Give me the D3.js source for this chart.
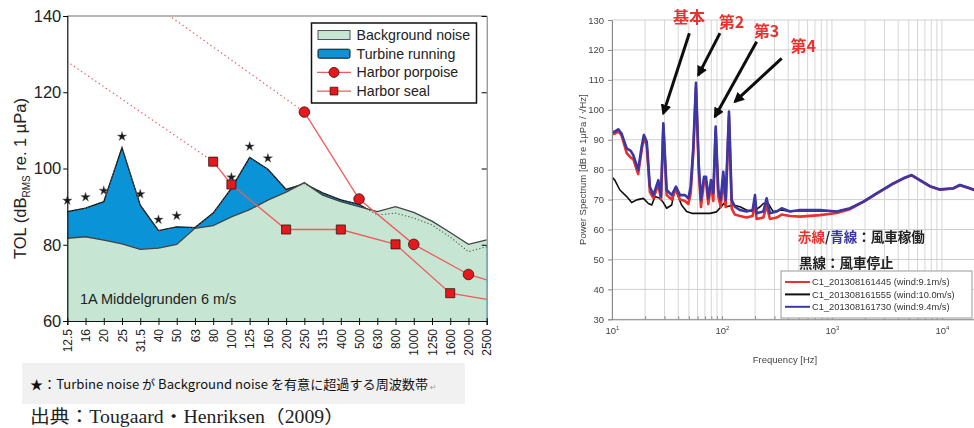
<!DOCTYPE html>
<html>
<head>
<meta charset="utf-8">
<script src="https://cdn.jsdelivr.net/npm/d3@7"></script>
<style>
  body { margin: 0; background: #fff; }
  svg { display: block; }
</style>
</head>
<body>
<svg id="fig" width="974" height="428"></svg>
<script>
// ---------- Left panel: third-octave levels, Middelgrunden ----------
const bands = ["12.5","16","20","25","31.5","40","50","63","80","100","125","160","200","250","315","400","500","630","800","1000","1250","1600","2000","2500"];
const backgroundNoise = [81.7,82.1,81.2,80.2,78.8,79.1,80.1,84.3,85.0,87.3,89.2,91.7,93.8,96.3,93.0,91.3,90.0,88.7,90.0,88.5,86.2,83.2,80.1,81.3];
const turbineRunning  = [88.7,89.6,91.3,105.5,90.4,83.7,84.7,84.5,88.3,94.8,102.9,99.8,94.5,96.0,93.6,91.8,90.6,87.8,88.3,87.0,85.2,82.0,78.2,79.5];
const significantBands = ["12.5","16","20","25","31.5","40","50","100","125","160"];

const porpoiseBands  = ["250","500","1000","2000","2500"];
const porpoiseLevels = [114.8,92.0,80.1,72.2,70.8];
const porpoiseMarked = [true,true,true,true,false];
const porpoiseExtBands  = ["40","250"];
const porpoiseExtLevels = [142.1,114.8];

const sealBands  = ["80","100","200","400","800","1600","2500"];
const sealLevels = [101.8,95.8,84.0,84.0,80.1,67.3,65.7];
const sealMarked = [true,true,true,true,true,true,false];
const sealExtBands  = ["12.5","80"];
const sealExtLevels = [128.0,101.8];

const yTicksLeft = [60,80,100,120,140];

// ---------- Right panel: power spectra ----------
const spectrumRed = [[10.0,91.8],[10.6,92.0],[11.4,92.8],[12.2,91.5],[13.6,85.5],[14.8,84.0],[15.6,83.5],[17.3,78.5],[18.6,86.5],[19.5,90.8],[20.7,88.0],[22.1,72.5],[23.8,70.5],[26.4,75.0],[27.9,70.0],[29.3,94.5],[31.4,71.5],[34.9,70.0],[38.2,73.5],[41.5,70.0],[46.1,69.5],[49.4,68.5],[51.9,72.0],[54.9,86.0],[58.0,107.5],[61.4,80.0],[64.4,67.5],[68.6,76.0],[71.6,76.0],[75.1,68.5],[79.4,75.0],[83.4,69.5],[87.6,93.0],[92.6,71.0],[97.3,67.5],[102.8,77.5],[108,67.5],[115.8,97.8],[122.5,67.0],[131,65.0],[146,64.5],[167,64.0],[190,64.5],[199.5,69.5],[206.5,63.5],[237.7,64.0],[254.6,68.0],[273,63.5],[314,64.0],[349,65.0],[415,64.5],[512,64.3],[778,64.8],[1104,65.5],[1459,66.8],[1929,69.2],[2548,72.0],[3609,75.3],[4447,77.0],[5305,78.1],[6310,76.4],[7780,74.4],[9590,73.3],[12680,73.7],[14580,74.8],[17990,73.7],[20370,72.9]];
const spectrumBlack = [[10.0,77.5],[10.6,76.5],[11.8,73.2],[13.6,71.0],[15.1,69.0],[16.8,69.9],[19.3,70.4],[21.4,68.7],[23.0,68.2],[24.6,71.0],[26.9,70.5],[29.3,69.0],[31.4,67.1],[34.9,68.2],[37.4,73.8],[40.0,71.0],[42.9,68.2],[47.7,66.0],[53.1,65.4],[63.0,65.4],[77.7,65.4],[89.4,65.9],[99.6,67.9],[104.5,68.8],[110.6,67.6],[126.5,68.2],[146,67.6],[167,66.5],[192,66.0],[222,67.6],[237.7,68.7],[263,68.7],[292,66.0],[349,66.5],[415,66.0],[512,66.3],[778,66.2],[1104,66.0],[1459,67.0],[1929,69.2],[2548,72.0],[3609,75.3],[4447,77.0],[5305,78.1],[6310,76.4],[7780,74.4],[9590,73.3],[12680,73.7],[14580,74.8],[17990,73.7],[20370,72.9]];
const spectrumBlue = [[10.0,92.5],[10.6,92.7],[11.4,93.5],[12.2,92.1],[13.6,87.1],[14.8,86.3],[15.6,84.9],[17.3,79.9],[18.6,87.7],[19.5,91.6],[20.7,89.3],[22.1,74.3],[23.8,71.5],[26.4,76.5],[27.9,71.0],[29.3,95.5],[31.4,73.2],[34.9,71.5],[38.2,74.3],[41.5,71.5],[46.1,71.5],[49.4,70.4],[51.9,74.3],[54.9,87.7],[58.0,109.0],[61.4,82.1],[64.4,69.9],[68.6,77.6],[71.6,77.6],[75.1,70.4],[79.4,76.5],[83.4,72.1],[87.6,94.4],[92.6,73.2],[97.3,69.9],[102.8,79.3],[108,69.9],[115.8,99.4],[122.5,69.9],[131,67.6],[146,66.5],[167,66.0],[190,66.5],[199.5,71.5],[206.5,65.4],[237.7,66.0],[254.6,70.4],[273,65.4],[314,66.0],[349,67.1],[415,66.0],[512,66.5],[778,66.5],[1104,66.0],[1459,67.1],[1929,69.3],[2548,72.1],[3609,75.4],[4447,77.1],[5305,78.2],[6310,76.5],[7780,74.5],[9590,73.4],[12680,73.8],[14580,74.9],[17990,73.8],[20370,73.0]];

const seriesNames  = ["C1_201308161445 (wind:9.1m/s)","C1_201308161555 (wind:10.0m/s)","C1_201308161730 (wind:9.4m/s)"];
const seriesColors = ["#e8302c","#111111","#3b37a6"];
const yTicksRight = [30,40,50,60,70,80,90,100,110,120,130];
const decadeTicks = [10,100,1000,10000];

// harmonic callouts: label, label anchor, arrow tail, arrow head (Hz, dB)
const harmonicLabels = ["基本","第2","第3","第4"];
const labelPos  = [[50.1,131.0],[122,129.3],[254,126.2],[548,121.1]];
const arrowTail = [[50.5,125.6],[95.9,125.6],[206.5,122.7],[349,117.2]];
const arrowHead = [[29.3,98.8],[60.9,111.6],[86.3,97.7],[131,102.7]];

const svg = d3.select("#fig");
const defs = svg.append("defs");

// ===================== Left panel =====================
const L = { left: 67.3, right: 486.7, top: 16, bottom: 321 };
const xL = d3.scalePoint().domain(bands).range([L.left, L.right]);
const yL = d3.scaleLinear().domain([60, 140]).range([L.bottom, L.top]);

defs.append("clipPath").attr("id", "clipL")
  .append("rect").attr("x", L.left).attr("y", L.top)
  .attr("width", L.right - L.left).attr("height", L.bottom - L.top);

const gL = svg.append("g");
const plotL = gL.append("g").attr("clip-path", "url(#clipL)");

const idx = bands.map((b, i) => i);
const areaTurb = d3.area().x(i => xL(bands[i])).y0(yL(60)).y1(i => yL(turbineRunning[i]));
const areaBg   = d3.area().x(i => xL(bands[i])).y0(yL(60)).y1(i => yL(backgroundNoise[i]));
const lineTurb = d3.line().x(i => xL(bands[i])).y(i => yL(turbineRunning[i]));
const lineBg   = d3.line().x(i => xL(bands[i])).y(i => yL(backgroundNoise[i]));

plotL.append("path").attr("d", areaTurb(idx)).attr("fill", "#0a93d6");
plotL.append("path").attr("d", lineTurb(idx)).attr("fill", "none").attr("stroke", "#111").attr("stroke-width", 1.3);
plotL.append("path").attr("d", areaBg(idx)).attr("fill", "#c6e6d3");
plotL.append("path").attr("d", lineTurb(idx)).attr("fill", "none").attr("stroke", "#555")
  .attr("stroke-width", 1.1).attr("stroke-dasharray", "1.2,2.2");
plotL.append("path").attr("d", lineBg(idx)).attr("fill", "none").attr("stroke", "#444").attr("stroke-width", 1.3);

// threshold curves
const pink = "#ef5b5b";
const lineCat = d3.line().x(d => xL(d[0])).y(d => yL(d[1]));
const dotted = (bs, vs) => plotL.append("path").attr("d", lineCat(bs.map((b, i) => [b, vs[i]])))
  .attr("fill", "none").attr("stroke", pink).attr("stroke-width", 1.4)
  .attr("stroke-dasharray", "0.1,4.2").attr("stroke-linecap", "round");
dotted(porpoiseExtBands, porpoiseExtLevels);
dotted(sealExtBands, sealExtLevels);

plotL.append("path").attr("d", lineCat(porpoiseBands.map((b, i) => [b, porpoiseLevels[i]])))
  .attr("fill", "none").attr("stroke", pink).attr("stroke-width", 1.3);
plotL.append("path").attr("d", lineCat(sealBands.map((b, i) => [b, sealLevels[i]])))
  .attr("fill", "none").attr("stroke", pink).attr("stroke-width", 1.3);

plotL.selectAll("circle.porp").data(porpoiseBands.filter((b, i) => porpoiseMarked[i]))
  .join("circle").attr("class", "porp")
  .attr("cx", b => xL(b)).attr("cy", b => yL(porpoiseLevels[porpoiseBands.indexOf(b)]))
  .attr("r", 5.3).attr("fill", "#e3191c").attr("stroke", "#3a1010").attr("stroke-width", 0.8);

const sq = d3.symbol(d3.symbolSquare).size(82);
plotL.selectAll("path.seal").data(sealBands.filter((b, i) => sealMarked[i]))
  .join("path").attr("class", "seal").attr("d", sq)
  .attr("transform", b => `translate(${xL(b)},${yL(sealLevels[sealBands.indexOf(b)])})`)
  .attr("fill", "#e3191c").attr("stroke", "#3a1010").attr("stroke-width", 0.8);

// stars above bands where turbine noise clearly exceeds background
const star = d3.symbol(d3.symbolStar).size(28);
gL.selectAll("path.star").data(significantBands).join("path").attr("class", "star")
  .attr("d", star)
  .attr("transform", b => `translate(${xL(b)},${yL(turbineRunning[bands.indexOf(b)]) - 11})`)
  .attr("fill", "#1a1a1a").attr("stroke", "#777").attr("stroke-width", 0.4);

// axes
const axL = gL.append("g").attr("transform", `translate(${L.left},0)`)
  .call(d3.axisLeft(yL).tickValues(yTicksLeft).tickSize(4).tickPadding(2));
axL.select(".domain").attr("stroke", "#111").attr("stroke-width", 1.2);
axL.selectAll("text").attr("font-family", "Liberation Sans, Arial, sans-serif")
  .attr("font-size", 16.5).attr("fill", "#222");

const axR = gL.append("g").attr("transform", `translate(${L.right},0)`)
  .call(d3.axisLeft(yL).tickValues(yTicksLeft).tickSize(5).tickFormat(""));
axR.select(".domain").attr("stroke", "#111").attr("stroke-width", 0.6);

const axB = gL.append("g").attr("transform", `translate(0,${L.bottom})`)
  .call(d3.axisBottom(xL).tickSize(4).tickPadding(3));
axB.select(".domain").attr("stroke", "#111").attr("stroke-width", 1.2);
axB.selectAll(".tick line").attr("y1", -3).attr("stroke", "#111");
axB.selectAll("text")
  .attr("transform", "rotate(-90)").attr("x", -8).attr("y", 0).attr("dy", "0.35em")
  .style("text-anchor", "end")
  .attr("font-family", "Liberation Sans, Arial, sans-serif").attr("font-size", 12).attr("fill", "#222");

gL.append("line").attr("x1", L.left).attr("x2", L.right).attr("y1", L.top).attr("y2", L.top)
  .attr("stroke", "#111").attr("stroke-width", 0.6);

// y title
const yt = gL.append("text").attr("transform", `translate(26,${(L.top + L.bottom) / 2 + 10}) rotate(-90)`)
  .attr("text-anchor", "middle").attr("font-family", "Liberation Sans, Arial, sans-serif")
  .attr("font-size", 16.5).attr("fill", "#222");
yt.append("tspan").text("TOL (dB");
yt.append("tspan").text("RMS").attr("font-size", 10).attr("dy", 4);
yt.append("tspan").text(" re. 1 µPa)").attr("dy", -4);

gL.append("text").attr("x", 80).attr("y", 304).text("1A Middelgrunden 6 m/s")
  .attr("font-family", "Liberation Sans, Arial, sans-serif").attr("font-size", 14.5).attr("fill", "#222");

// legend
const lg = gL.append("g");
lg.append("rect").attr("x", 311.5).attr("y", 23).attr("width", 165).attr("height", 80)
  .attr("fill", "#fff").attr("stroke", "#111").attr("stroke-width", 1.5);
const legendRows = ["Background noise","Turbine running","Harbor porpoise","Harbor seal"];
legendRows.forEach((name, i) => {
  const cy = 35 + i * 18.7;
  if (i === 0) lg.append("rect").attr("x", 318).attr("y", cy - 4.5).attr("width", 32).attr("height", 9)
    .attr("fill", "#c6e6d3").attr("stroke", "#555").attr("stroke-width", 1);
  if (i === 1) lg.append("rect").attr("x", 318).attr("y", cy - 4.5).attr("width", 32).attr("height", 9)
    .attr("rx", 1.5).attr("fill", "#0a93d6").attr("stroke", "#111").attr("stroke-width", 1);
  if (i >= 2) {
    lg.append("line").attr("x1", 317).attr("x2", 351).attr("y1", cy).attr("y2", cy)
      .attr("stroke", pink).attr("stroke-width", 1.3);
    if (i === 2) lg.append("circle").attr("cx", 334).attr("cy", cy).attr("r", 5)
      .attr("fill", "#e3191c").attr("stroke", "#3a1010").attr("stroke-width", 0.8);
    else lg.append("path").attr("d", d3.symbol(d3.symbolSquare).size(60))
      .attr("transform", `translate(334,${cy})`)
      .attr("fill", "#e3191c").attr("stroke", "#3a1010").attr("stroke-width", 0.8);
  }
  lg.append("text").attr("x", 356.5).attr("y", cy + 5).text(name)
    .attr("font-family", "Liberation Sans, Arial, sans-serif").attr("font-size", 14.2).attr("fill", "#222");
});

// note strip and source
svg.append("rect").attr("x", 22).attr("y", 363).attr("width", 443).attr("height", 41).attr("fill", "#f1f1f1");
svg.append("text").attr("x", 30).attr("y", 389)
  .text("★：Turbine noise が Background noise を有意に超過する周波数帯")
  .attr("font-family", "Noto Sans CJK JP, sans-serif").attr("font-size", 13).attr("fill", "#111")
  .attr("textLength", 398).attr("lengthAdjust", "spacingAndGlyphs");
svg.append("text").attr("x", 430).attr("y", 390).text("↵")
  .attr("font-family", "DejaVu Sans, sans-serif").attr("font-size", 8).attr("fill", "#999");
svg.append("text").attr("x", 30).attr("y", 423)
  .text("出典：Tougaard・Henriksen（2009）")
  .attr("font-family", "Liberation Serif, Noto Sans CJK JP, serif").attr("font-size", 18).attr("fill", "#222")
  .attr("textLength", 314).attr("lengthAdjust", "spacingAndGlyphs");

// ===================== Right panel =====================
defs.append("filter").attr("id", "soft").append("feGaussianBlur").attr("stdDeviation", 0.55);
const R = { left: 612, right: 976, top: 20, bottom: 319.3 };
const xR = d3.scaleLog().domain([10, 20400]).range([R.left, R.right]);
const yR = d3.scaleLinear().domain([30, 130]).range([R.bottom, R.top]);

defs.append("clipPath").attr("id", "clipR")
  .append("rect").attr("x", R.left).attr("y", R.top - 2)
  .attr("width", R.right - R.left).attr("height", R.bottom - R.top + 2);

const gR = svg.append("g").attr("filter", "url(#soft)");

// grid
const minorTicks = xR.ticks();
gR.append("g").selectAll("line").data(minorTicks).join("line")
  .attr("x1", d => xR(d)).attr("x2", d => xR(d)).attr("y1", R.top).attr("y2", R.bottom)
  .attr("stroke", "#d6d6d6").attr("stroke-width", 1);
gR.append("g").selectAll("line").data(yTicksRight).join("line")
  .attr("x1", R.left).attr("x2", R.right).attr("y1", d => yR(d)).attr("y2", d => yR(d))
  .attr("stroke", "#cfcfcf").attr("stroke-width", 1);

// spectra
const plotR = gR.append("g").attr("clip-path", "url(#clipR)");
const lineR = d3.line().x(d => xR(d[0])).y(d => yR(d[1]));
plotR.append("path").attr("d", lineR(spectrumBlack)).attr("fill", "none")
  .attr("stroke", seriesColors[1]).attr("stroke-width", 1.6).attr("stroke-linejoin", "round");
plotR.append("path").attr("d", lineR(spectrumRed)).attr("fill", "none")
  .attr("stroke", seriesColors[0]).attr("stroke-width", 2.6).attr("stroke-linejoin", "round");
plotR.append("path").attr("d", lineR(spectrumBlue)).attr("fill", "none")
  .attr("stroke", seriesColors[2]).attr("stroke-width", 2.6).attr("stroke-linejoin", "round");

// axes
const fontR = "Liberation Sans, Arial, sans-serif";
const ayR = gR.append("g").attr("transform", `translate(${R.left},0)`)
  .call(d3.axisLeft(yR).tickValues(yTicksRight).tickSize(4).tickPadding(4));
ayR.select(".domain").attr("stroke", "#888");
ayR.selectAll(".tick line").attr("stroke", "#888");
ayR.selectAll("text").attr("font-family", fontR).attr("font-size", 9.5).attr("fill", "#444");

const axRb = gR.append("g").attr("transform", `translate(0,${R.bottom})`)
  .call(d3.axisBottom(xR).tickValues(minorTicks).tickSize(-3).tickFormat(""));
axRb.select(".domain").attr("stroke", "#888");
axRb.selectAll(".tick line").attr("stroke", "#888");
const axRd = gR.append("g").attr("transform", `translate(0,${R.bottom})`)
  .call(d3.axisBottom(xR).tickValues(decadeTicks).tickSize(0).tickPadding(8).tickFormat(() => "10"));
axRd.select(".domain").remove();
axRd.selectAll("text").attr("font-family", fontR).attr("font-size", 9.5).attr("fill", "#444")
  .append("tspan").text(d => Math.round(Math.log10(d))).attr("font-size", 6).attr("dy", -4);

gR.append("text").attr("x", (xR(10) + xR(10000)) / 2 + 8).attr("y", 363).attr("text-anchor", "middle")
  .text("Frequency [Hz]").attr("font-family", fontR).attr("font-size", 9.5).attr("fill", "#444");
gR.append("text").attr("transform", `translate(586,${yR(80)}) rotate(-90)`).attr("text-anchor", "middle")
  .text("Power Spectrum [dB re 1μPa / √Hz]").attr("font-family", fontR).attr("font-size", 9.5).attr("fill", "#444");

// harmonic callouts
defs.append("marker").attr("id", "ah").attr("viewBox", "0 0 10 10").attr("refX", 8).attr("refY", 5)
  .attr("markerWidth", 3.6).attr("markerHeight", 3.6).attr("orient", "auto")
  .append("path").attr("d", "M0,0 L10,5 L0,10 z").attr("fill", "#111");
harmonicLabels.forEach((lab, i) => {
  gR.append("line")
    .attr("x1", xR(arrowTail[i][0])).attr("y1", yR(arrowTail[i][1]))
    .attr("x2", xR(arrowHead[i][0])).attr("y2", yR(arrowHead[i][1]))
    .attr("stroke", "#111").attr("stroke-width", 3).attr("marker-end", "url(#ah)");
  gR.append("text").attr("x", xR(labelPos[i][0])).attr("y", yR(labelPos[i][1]) + 5.5)
    .attr("text-anchor", "middle").text(lab)
    .attr("font-family", "Noto Sans CJK JP, sans-serif").attr("font-weight", "bold")
    .attr("font-size", 16).attr("fill", "#e8332d");
});

// operating-state notes
const note1 = gR.append("text").attr("x", 798).attr("y", 242)
  .attr("font-family", "Noto Sans CJK JP, sans-serif").attr("font-weight", "bold").attr("font-size", 13.5);
note1.append("tspan").text("赤線").attr("fill", "#e8332d");
note1.append("tspan").text("/").attr("fill", "#222");
note1.append("tspan").text("青線").attr("fill", "#3b37a6");
note1.append("tspan").text("：風車稼働").attr("fill", "#222");
gR.append("text").attr("x", 799).attr("y", 268).text("黒線：風車停止")
  .attr("font-family", "Noto Sans CJK JP, sans-serif").attr("font-weight", "bold")
  .attr("font-size", 13.5).attr("fill", "#222");

// legend
const lgR = gR.append("g");
lgR.append("rect").attr("x", 781).attr("y", 271).attr("width", 191).attr("height", 47)
  .attr("fill", "#fff").attr("stroke", "#999").attr("stroke-width", 1);
seriesNames.forEach((name, i) => {
  const cy = 282 + i * 12.4;
  lgR.append("line").attr("x1", 785).attr("x2", 810).attr("y1", cy).attr("y2", cy)
    .attr("stroke", seriesColors[i]).attr("stroke-width", 2);
  lgR.append("text").attr("x", 812).attr("y", cy + 3.3).text(name)
    .attr("font-family", fontR).attr("font-size", 9.3).attr("fill", "#333");
});
</script>
</body>
</html>
